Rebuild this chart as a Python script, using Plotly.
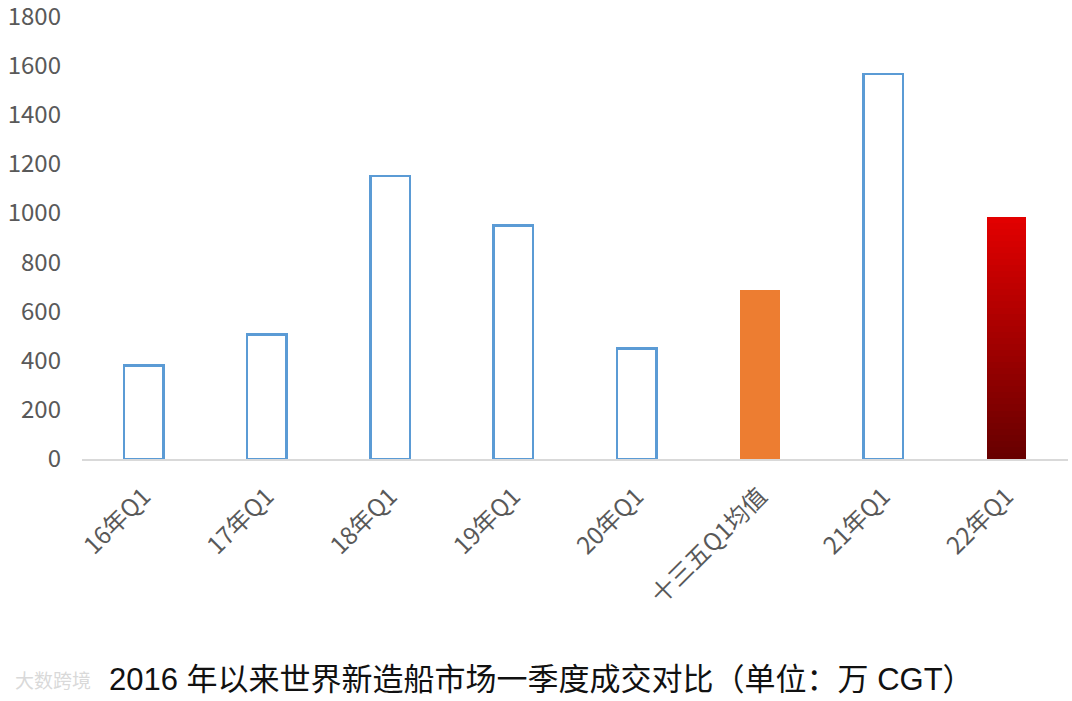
import plotly.graph_objects as go

categories = ["16年Q1", "17年Q1", "18年Q1", "19年Q1", "20年Q1", "十三五Q1均值", "21年Q1", "22年Q1"]
values = [380, 505, 1150, 948, 448, 688, 1565, 985]
kind = ["hollow", "hollow", "hollow", "hollow", "hollow", "orange", "hollow", "gradient"]
y_ticks = [0, 200, 400, 600, 800, 1000, 1200, 1400, 1600, 1800]
title_text = "2016 年以来世界新造船市场一季度成交对比（单位：万 CGT）"
watermark_text = "大数跨境"

BAR_W = 0.32
BLUE = "#5B9BD5"
ORANGE = "#ED7D31"
GRAD_TOP = (226, 0, 0)
GRAD_BOT = (104, 0, 0)
N_SEG = 40

fig = go.Figure()

hollow_y = [v if k == "hollow" else None for v, k in zip(values, kind)]
fig.add_trace(go.Bar(
    x=categories, y=hollow_y, width=BAR_W,
    marker=dict(color="rgba(255,255,255,1)", line=dict(color=BLUE, width=2.6)),
    showlegend=False, hoverinfo="x+y",
))

orange_y = [v if k == "orange" else None for v, k in zip(values, kind)]
fig.add_trace(go.Bar(
    x=categories, y=orange_y, width=BAR_W,
    marker=dict(color=ORANGE, line=dict(width=0)),
    showlegend=False, hoverinfo="x+y",
))

# gradient bar drawn as stacked slices of the same value
for cat, v, k in zip(categories, values, kind):
    if k != "gradient":
        continue
    for s in range(N_SEG):
        t = s / (N_SEG - 1)
        r = int(GRAD_BOT[0] + (GRAD_TOP[0] - GRAD_BOT[0]) * t)
        g = int(GRAD_BOT[1] + (GRAD_TOP[1] - GRAD_BOT[1]) * t)
        b = int(GRAD_BOT[2] + (GRAD_TOP[2] - GRAD_BOT[2]) * t)
        fig.add_trace(go.Bar(
            x=[cat], y=[v / N_SEG], width=BAR_W,
            marker=dict(color=f"rgb({r},{g},{b})", line=dict(width=0)),
            showlegend=False, hoverinfo="skip",
        ))

fig.update_layout(
    barmode="stack",
    width=1072, height=701,
    margin=dict(l=82, r=4, t=16, b=242, autoexpand=False),
    paper_bgcolor="white", plot_bgcolor="white",
    font=dict(family="Noto Sans CJK SC, Noto Sans, sans-serif", color="#595959"),
    xaxis=dict(
        type="category", categoryorder="array", categoryarray=categories,
        showgrid=False, showline=True, linecolor="#D9D9D9", linewidth=1.5,
        ticks="outside", ticklen=12, tickcolor="rgba(0,0,0,0)",
        tickangle=-45, tickfont=dict(size=24, color="#595959"),
        automargin=False, fixedrange=True,
    ),
    yaxis=dict(
        range=[0, 1800.5], tickvals=y_ticks, showgrid=False, zeroline=False,
        showline=False, ticks="", tickfont=dict(size=24, color="#595959"),
        ticklabelstandoff=20, ticklabeloverflow="allow",
        automargin=False, fixedrange=True,
    ),
    annotations=[
        dict(text=watermark_text, xref="paper", yref="paper", x=-0.029, y=-0.497,
             xanchor="center", yanchor="middle", showarrow=False,
             font=dict(size=19, color="rgba(210,210,210,0.85)",
                       family="Noto Sans CJK SC, sans-serif")),
        dict(text=title_text, xref="paper", yref="paper", x=0.466, y=-0.497,
             xanchor="center", yanchor="middle", showarrow=False,
             font=dict(size=31, color="#111111",
                       family="Liberation Sans, Noto Sans CJK SC, sans-serif")),
    ],
)

fig.write_html("out.html", config={"displayModeBar": False},
               post_script="document.body.style.margin='0';")
